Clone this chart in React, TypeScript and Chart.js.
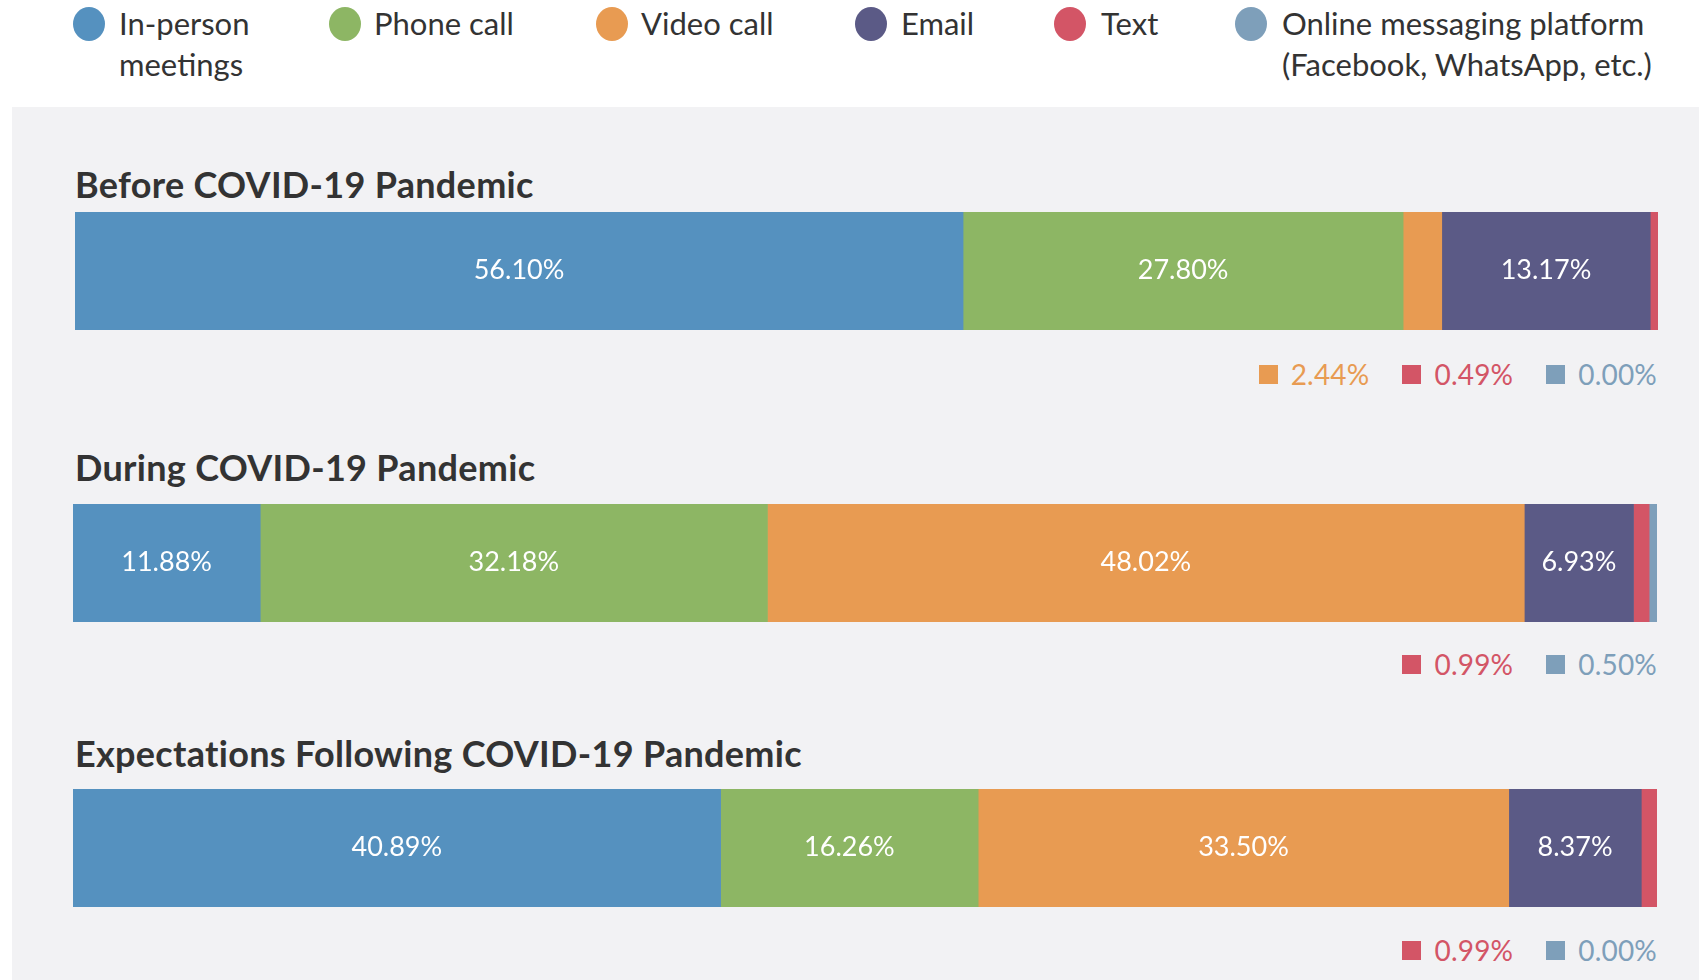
import React, { useEffect, useRef } from "react";
import { Chart, registerables } from "chart.js";

Chart.register(...registerables);

const seriesNames = [
  "In-person meetings",
  "Phone call",
  "Video call",
  "Email",
  "Text",
  "Online messaging platform (Facebook, WhatsApp, etc.)",
];
const legendLines = [
  ["In-person", "meetings"],
  ["Phone call"],
  ["Video call"],
  ["Email"],
  ["Text"],
  ["Online messaging platform", "(Facebook, WhatsApp, etc.)"],
];
const seriesColors = ["#5591bf", "#8db664", "#e89b52", "#5b5a86", "#d35566", "#7e9fba"];

const periods = [
  "Before COVID-19 Pandemic",
  "During COVID-19 Pandemic",
  "Expectations Following COVID-19 Pandemic",
];
const beforeValues = [56.1, 27.8, 2.44, 13.17, 0.49, 0.0];
const duringValues = [11.88, 32.18, 48.02, 6.93, 0.99, 0.5];
const afterValues = [40.89, 16.26, 33.5, 8.37, 0.99, 0.0];
const periodValues = [beforeValues, duringValues, afterValues];
const insideThreshold = 5;

const FONT = "Lato, 'Open Sans', sans-serif";

const labelPlugin = {
  id: "insideLabels",
  afterDatasetsDraw(chart: any) {
    const ctx = chart.ctx;
    ctx.save();
    ctx.font = `27px ${FONT}`;
    ctx.fillStyle = "#ffffff";
    ctx.textAlign = "center";
    ctx.textBaseline = "middle";
    chart.data.datasets.forEach((ds: any, i: number) => {
      const v = ds.data[0];
      if (v < insideThreshold) return;
      const el = chart.getDatasetMeta(i).data[0] as any;
      const { x, base, y } = el.getProps(["x", "base", "y"], true);
      ctx.fillText(v.toFixed(2) + "%", (x + base) / 2, y - 1);
    });
    ctx.restore();
  },
};

function StackBar({ values, left, top, width, height }: any) {
  const ref = useRef<HTMLCanvasElement>(null);
  useEffect(() => {
    if (!ref.current) return;
    const total = values.reduce((a: number, b: number) => a + b, 0);
    const chart = new Chart(ref.current, {
      type: "bar",
      data: {
        labels: [""],
        datasets: seriesNames.map((name, i) => ({
          label: name,
          data: [values[i]],
          backgroundColor: seriesColors[i],
          borderWidth: 0,
          barPercentage: 1,
          categoryPercentage: 1,
        })),
      },
      options: {
        indexAxis: "y",
        responsive: false,
        maintainAspectRatio: false,
        animation: false,
        layout: { padding: 0 },
        plugins: { legend: { display: false }, tooltip: { enabled: false } },
        scales: {
          x: { stacked: true, display: false, min: 0, max: total },
          y: { stacked: true, display: false },
        },
      },
      plugins: [labelPlugin],
    });
    return () => chart.destroy();
  }, [values]);
  return (
    <canvas
      ref={ref}
      width={width}
      height={height}
      style={{ position: "absolute", left, top, width, height }}
    />
  );
}

const legendCircleX = [89, 345, 612, 871, 1070, 1251];
const legendTextX = [119, 374, 641, 901, 1101, 1282];

const sections = [
  { titleY: 184, barLeft: 75, barTop: 212, barWidth: 1583, smallY: 374 },
  { titleY: 467, barLeft: 73, barTop: 504, barWidth: 1584, smallY: 664 },
  { titleY: 753, barLeft: 73, barTop: 789, barWidth: 1584, smallY: 950 },
];

export default function App() {
  return (
    <div
      style={{
        position: "fixed",
        left: 0,
        top: 0,
        width: 1699,
        height: 980,
        background: "#ffffff",
        fontFamily: FONT,
        overflow: "hidden",
      }}
    >
      {legendLines.map((lines, i) => (
        <React.Fragment key={i}>
          <div
            style={{
              position: "absolute",
              left: legendCircleX[i] - 16,
              top: 24 - 17,
              width: 32,
              height: 34,
              borderRadius: "50%",
              background: seriesColors[i],
            }}
          />
          <div
            style={{
              position: "absolute",
              left: legendTextX[i],
              top: 3,
              fontSize: 31,
              lineHeight: "41px",
              color: "#333333",
              letterSpacing: 0,
              whiteSpace: "nowrap",
            }}
          >
            {lines.map((l, j) => (
              <div key={j}>{l}</div>
            ))}
          </div>
        </React.Fragment>
      ))}
      <div
        style={{
          position: "absolute",
          left: 12,
          top: 107,
          width: 1699 - 12,
          height: 980 - 107,
          background: "#f2f2f4",
        }}
      />
      {sections.map((s, k) => {
        const vals = periodValues[k];
        const small = vals
          .map((v, i) => ({ v, i }))
          .filter((o) => o.v < insideThreshold);
        return (
          <React.Fragment key={k}>
            <div
              style={{
                position: "absolute",
                left: 75,
                top: s.titleY - 21,
                height: 42,
                lineHeight: "42px",
                fontSize: 36,
                fontWeight: 700,
                color: "#333333",
                letterSpacing: 0.3,
                whiteSpace: "nowrap",
              }}
            >
              {periods[k]}
            </div>
            <StackBar
              values={vals}
              left={s.barLeft}
              top={s.barTop}
              width={s.barWidth}
              height={118}
            />
            <div
              style={{
                position: "absolute",
                right: 1699 - 1657,
                top: s.smallY - 16,
                height: 32,
                display: "flex",
                alignItems: "center",
                gap: 33,
              }}
            >
              {small.map(({ v, i }) => (
                <div key={i} style={{ display: "flex", alignItems: "center", gap: 13 }}>
                  <div style={{ width: 19, height: 19, background: seriesColors[i] }} />
                  <div
                    style={{
                      fontSize: 28,
                      color: seriesColors[i],
                      letterSpacing: 0.2,
                      lineHeight: "32px",
                    }}
                  >
                    {v.toFixed(2) + "%"}
                  </div>
                </div>
              ))}
            </div>
          </React.Fragment>
        );
      })}
    </div>
  );
}
